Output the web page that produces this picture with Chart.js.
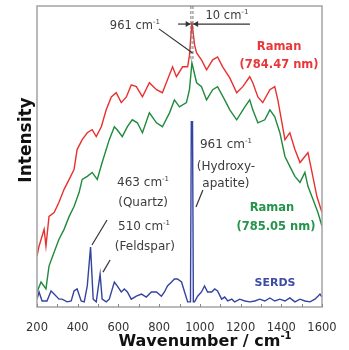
<!DOCTYPE html>
<html><head><meta charset="utf-8">
<script src="https://cdn.jsdelivr.net/npm/chart.js@4/dist/chart.umd.min.js"></script>
<style>html,body{margin:0;padding:0;background:#fff}canvas{display:block}</style>
</head><body>
<canvas id="c" width="349" height="350"></canvas>
<script>
const xTicks = [200,400,600,800,1000,1200,1400,1600];
const ramanRedX = [200,210,235,244,259,284,308,333,358,382,397,422,447,471,491,516,540,565,589,614,639,663,688,718,752,787,816,841,866,885,915,940,949,961,974,984,1008,1033,1063,1087,1112,1147,1181,1211,1245,1260,1285,1309,1344,1368,1383,1418,1442,1467,1492,1516,1531,1551,1575,1600];
const ramanRedY = [16.9,20.2,25.8,20.2,30.1,31.4,34.8,39.1,42.4,45.7,52.3,55.6,57.9,58.9,56.6,59.9,65.5,69.8,71.2,67.9,69.8,73.8,73.2,69.8,74.5,72.2,71.2,75.5,79.8,76.5,79.8,79.8,83.7,94.7,87.1,84.4,82.1,78.8,82.1,83.1,79.8,76.1,71.2,73.2,76.5,74.5,69.8,67.9,72.2,73.2,68.8,55.6,57.9,52.3,48.0,50.0,51.3,44.7,36.7,31.4];
const ramanGreenX = [200,220,244,259,284,308,333,358,382,407,422,447,471,496,520,555,580,594,619,644,668,693,718,752,787,816,851,875,900,934,949,961,984,1008,1033,1063,1087,1122,1147,1181,1221,1245,1260,1285,1319,1344,1368,1393,1418,1442,1467,1492,1516,1531,1556,1580,1600];
const ramanGreenY = [5.0,8.3,6.0,13.6,18.2,22.5,25.8,30.1,33.4,38.1,42.4,43.4,44.7,42.4,48.0,55.6,59.9,58.9,56.6,59.9,62.2,61.2,57.9,64.5,61.2,59.9,64.5,68.8,66.5,67.9,72.2,81.1,74.5,73.2,68.8,72.2,73.2,68.8,65.5,62.2,66.5,68.8,65.5,61.2,62.2,65.5,63.2,57.9,50.0,46.7,43.4,41.4,44.7,40.1,35.7,31.4,26.8];
const serdsX = [200,210,225,249,269,284,308,323,348,368,382,397,417,432,447,463,476,491,510,520,540,555,580,594,614,629,644,663,688,713,737,762,787,811,826,841,861,875,890,910,925,940,954,958,964,968,974,989,1008,1023,1038,1058,1073,1087,1107,1122,1137,1157,1171,1196,1221,1245,1270,1294,1319,1344,1368,1393,1418,1442,1467,1492,1516,1541,1565,1580,1590,1600];
const serdsY = [2.6,5.0,2.0,2.0,5.3,4.3,2.6,2.6,1.7,2.0,5.3,6.0,2.0,1.7,7.0,19.9,2.6,1.7,10.9,2.6,1.7,2.6,8.3,7.0,5.0,6.0,5.0,2.6,3.6,4.3,3.3,5.0,5.0,3.6,5.0,7.0,8.3,9.3,9.3,8.3,5.0,1.7,1.7,61.6,61.6,1.7,1.7,3.6,5.0,7.0,5.0,5.0,6.0,5.3,2.6,3.3,2.0,2.6,1.7,2.6,2.0,1.7,2.0,2.6,2.0,3.0,2.0,2.6,2.0,3.0,1.7,2.6,2.0,1.7,2.6,3.6,4.3,3.3];

const pts = (xs, ys) => xs.map((x, i) => ({x, y: ys[i]}));
const FONT = '"DejaVu Sans", sans-serif';

function supText(ctx, base, sup, x, y, size, weight, color) {
  ctx.save();
  ctx.fillStyle = color;
  ctx.textBaseline = 'middle';
  const f1 = `${weight} ${size}px ${FONT}`;
  const f2 = `${weight} ${Math.round(size*0.62)}px ${FONT}`;
  ctx.font = f1; const w1 = ctx.measureText(base).width;
  ctx.font = f2; const w2 = sup ? ctx.measureText(sup).width : 0;
  const left = x - (w1 + w2) / 2;
  ctx.textAlign = 'left';
  ctx.font = f1; ctx.fillText(base, left, y);
  if (sup) { ctx.font = f2; ctx.fillText(sup, left + w1, y - size*0.35); }
  ctx.restore();
}

const annot = {
  id: 'annot',
  afterDraw(chart) {
    const {ctx, chartArea: a, scales: {x, y}} = chart;
    const X = v => x.getPixelForValue(v), Y = v => y.getPixelForValue(v);
    ctx.save();
    ctx.strokeStyle = '#a3a3a3'; ctx.lineWidth = 1.5;
    ctx.strokeRect(a.left, a.top, a.right - a.left, a.bottom - a.top);
    ctx.strokeStyle = '#8a8a8a'; ctx.lineWidth = 1;
    x.ticks.forEach(t => { const px = Math.round(X(t.value)) + 0.5; ctx.beginPath(); ctx.moveTo(px, a.bottom); ctx.lineTo(px, a.bottom - 3); ctx.stroke(); });
    ctx.strokeStyle = '#777'; ctx.lineWidth = 1; ctx.setLineDash([3,2]);
    [956, 966].forEach(v => { ctx.beginPath(); ctx.moveTo(X(v), a.top); ctx.lineTo(X(v), Y(82)); ctx.stroke(); });
    ctx.setLineDash([]);
    ctx.strokeStyle = '#333'; ctx.fillStyle = '#333'; ctx.lineWidth = 1.2;
    const ay = Y(94);
    const arrow = (x1, x2) => {
      ctx.beginPath(); ctx.moveTo(x1, ay); ctx.lineTo(x2, ay); ctx.stroke();
      const d = Math.sign(x2 - x1);
      ctx.beginPath(); ctx.moveTo(x2, ay); ctx.lineTo(x2 - d*5, ay - 3); ctx.lineTo(x2 - d*5, ay + 3); ctx.closePath(); ctx.fill();
    };
    arrow(X(893), X(955));
    arrow(X(1246), X(967));
    const lead = (x1, y1, x2, y2) => { ctx.beginPath(); ctx.moveTo(X(x1), Y(y1)); ctx.lineTo(X(x2), Y(y2)); ctx.stroke(); };
    lead(799, 92.4, 964, 84.4);
    lead(981, 33.2, 1015, 38.9);
    lead(470, 20.6, 544, 28.9);
    lead(524, 11.6, 559, 15.6);
    ctx.restore();
    const g = '#3c3c3c';
    supText(ctx, '961 cm', '-1', X(681), Y(93.3), 11.5, 'normal', g);
    supText(ctx, '10 cm', '-1', X(1133), Y(96.7), 11.5, 'normal', g);
    supText(ctx, '961 cm', '-1', X(1128), Y(53.8), 12, 'normal', g);
    supText(ctx, '(Hydroxy-', '', X(1128), Y(46.5), 12, 'normal', g);
    supText(ctx, 'apatite)', '', X(1128), Y(40.9), 12, 'normal', g);
    supText(ctx, '463 cm', '-1', X(721), Y(41.2), 12, 'normal', g);
    supText(ctx, '(Quartz)', '', X(721), Y(34.5), 12, 'normal', g);
    supText(ctx, '510 cm', '-1', X(726), Y(26.6), 12, 'normal', g);
    supText(ctx, '(Feldspar)', '', X(730), Y(19.9), 12, 'normal', g);
    const red = '#e8383a', green = '#25944a', blue = '#3d4ca6';
    supText(ctx, 'Raman', '', X(1389), Y(86.4), 11.5, 'bold', red);
    supText(ctx, '(784.47 nm)', '', X(1389), Y(80.4), 11.5, 'bold', red);
    supText(ctx, 'Raman', '', X(1354), Y(32.9), 11.5, 'bold', green);
    supText(ctx, '(785.05 nm)', '', X(1374), Y(26.6), 11.5, 'bold', green);
    supText(ctx, 'SERDS', '', X(1369), Y(8.0), 11, 'bold', blue);
    supText(ctx, 'Wavenumber / cm', '-1', 205, 342, 16, 'bold', '#111');
    ctx.save();
    ctx.translate(27, 140); ctx.rotate(-Math.PI/2);
    supText(ctx, 'Intensity', '', 0, 0, 17, 'bold', '#111');
    ctx.restore();
  }
};

new Chart(document.getElementById('c'), {
  type: 'line',
  data: {
    datasets: [
      {label: 'Raman 784.47 nm', data: pts(ramanRedX, ramanRedY), borderColor: '#e8312f', borderWidth: 1.4},
      {label: 'Raman 785.05 nm', data: pts(ramanGreenX, ramanGreenY), borderColor: '#1f8a3c', borderWidth: 1.4},
      {label: 'SERDS', data: pts(serdsX, serdsY), borderColor: '#3443a0', borderWidth: 1.4}
    ]
  },
  options: {
    responsive: false, animation: false, devicePixelRatio: 1,
    elements: {point: {radius: 0}, line: {tension: 0}},
    layout: {padding: {left: 37, right: 27, top: 6, bottom: 0}},
    plugins: {legend: {display: false}, tooltip: {enabled: false}},
    scales: {
      x: {
        type: 'linear', min: 200, max: 1600,
        border: {display: false},
        grid: {display: false},
        afterFit: s => { s.height = 43; },
        ticks: {
          stepSize: 100, padding: 6, color: '#333', maxRotation: 0, autoSkip: false,
          font: {family: FONT, size: 11.5},
          callback: v => xTicks.includes(v) ? String(v) : ''
        }
      },
      y: {min: 0, max: 100, display: false}
    }
  },
  plugins: [annot]
});
</script>
</body></html>
